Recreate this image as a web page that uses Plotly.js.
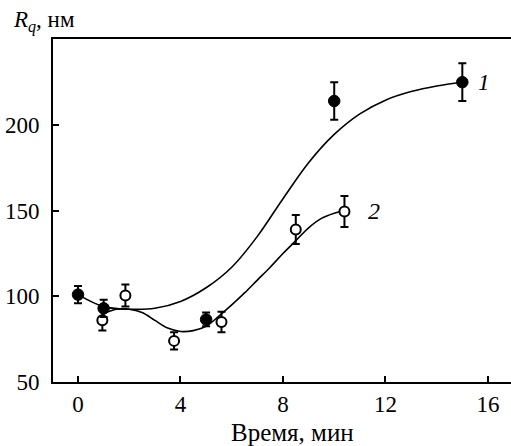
<!DOCTYPE html>
<html>
<head>
<meta charset="utf-8">
<script src="https://cdn.plot.ly/plotly-3.0.1.min.js"></script>
<style>html,body{margin:0;padding:0;background:#fff;}#chart{width:511px;height:446px;}</style>
</head>
<body>
<div id="chart"></div>
<script>
// Series 1 (filled circles)
const time1 = [0, 1, 5, 10, 15];
const rq1 = [101, 93, 86.5, 214, 225];
const err1 = [5, 5, 4, 11, 11];
// Series 2 (open circles)
const time2 = [0.95, 1.85, 3.75, 5.6, 8.5, 10.4];
const rq2 = [86, 100.5, 74, 85, 139, 149.5];
const err2 = [6, 6.4, 5, 6, 8.5, 9];
// Fitted curves
const fitX1 = [0, 1, 2, 3, 4, 5, 6, 7, 8, 9, 10, 11, 12, 13, 14, 15];
const fitY1 = [101, 94, 92.5, 93, 97, 105, 117, 135, 157, 178, 194.5, 206.5, 214.5, 219.5, 222.8, 225];
const fitX2 = [1, 1.5, 2, 2.5, 3, 3.5, 4, 4.5, 5, 5.5, 6, 6.5, 7, 7.5, 8, 8.5, 9, 9.5, 10, 10.4];
const fitY2 = [90, 92.5, 92.5, 90.5, 86, 81.5, 79.5, 80, 82.5, 88.5, 95, 102, 109.5, 117, 125, 132.5, 140, 145.5, 148.5, 150];
const xTicks = [0, 4, 8, 12, 16];
const yTicks = [50, 100, 150, 200];

const font = 'Liberation Serif';

const traces = [
  {x: fitX1, y: fitY1, mode: 'lines', line: {color: '#000', width: 1.6, shape: 'spline', smoothing: 1}, hoverinfo: 'skip'},
  {x: fitX2, y: fitY2, mode: 'lines', line: {color: '#000', width: 1.6, shape: 'spline', smoothing: 1}, hoverinfo: 'skip'},
  {x: time2, y: rq2, mode: 'markers',
   marker: {symbol: 'circle', size: 10, color: '#fff', line: {color: '#000', width: 2}},
   error_y: {type: 'data', array: err2, visible: true, color: '#000', thickness: 2, width: 4}},
  {x: time1, y: rq1, mode: 'markers',
   marker: {symbol: 'circle', size: 11.5, color: '#000', line: {color: '#000', width: 1}},
   error_y: {type: 'data', array: err1, visible: true, color: '#000', thickness: 2, width: 4}}
];

const layout = {
  width: 511, height: 446,
  margin: {l: 53, r: 0, t: 39, b: 64},
  paper_bgcolor: '#fff', plot_bgcolor: '#fff',
  showlegend: false,
  font: {family: font, size: 23, color: '#000'},
  xaxis: {
    range: [-0.976, 16.9], tickvals: xTicks, ticktext: xTicks.map(String),
    showline: true, linecolor: '#000', linewidth: 2, mirror: true,
    ticks: 'inside', ticklen: 6, tickwidth: 2, tickcolor: '#000',
    showgrid: false, zeroline: false,
    tickfont: {family: font, size: 23, color: '#000'}
  },
  yaxis: {
    range: [50, 250.2], tickvals: yTicks, ticktext: yTicks.map(String),
    showline: true, linecolor: '#000', linewidth: 2,
    ticks: 'inside', ticklen: 6, tickwidth: 2, tickcolor: '#000',
    ticklabelstandoff: 7,
    showgrid: false, zeroline: false,
    tickfont: {family: font, size: 23, color: '#000'}
  },
  annotations: [
    {xref: 'paper', yref: 'paper', x: 0, y: 1.05, xshift: -42, xanchor: 'left', yanchor: 'middle',
     text: '<i>R</i><sub><i>q</i></sub>, нм', showarrow: false, font: {family: font, size: 23, color: '#000'}},
    {xref: 'paper', yref: 'paper', x: 0.522, y: -0.148, xanchor: 'center', yanchor: 'middle',
     text: 'Время, мин', showarrow: false, font: {family: font, size: 25, color: '#000'}},
    {x: 15.55, y: 225, xanchor: 'left', yanchor: 'middle', text: '<i>1</i>', showarrow: false,
     font: {family: font, size: 23, color: '#000'}},
    {x: 11.25, y: 150, xanchor: 'left', yanchor: 'middle', text: '<i>2</i>', showarrow: false,
     font: {family: font, size: 24, color: '#000'}}
  ]
};

Plotly.newPlot('chart', traces, layout, {displayModeBar: false, staticPlot: true});
</script>
</body>
</html>
